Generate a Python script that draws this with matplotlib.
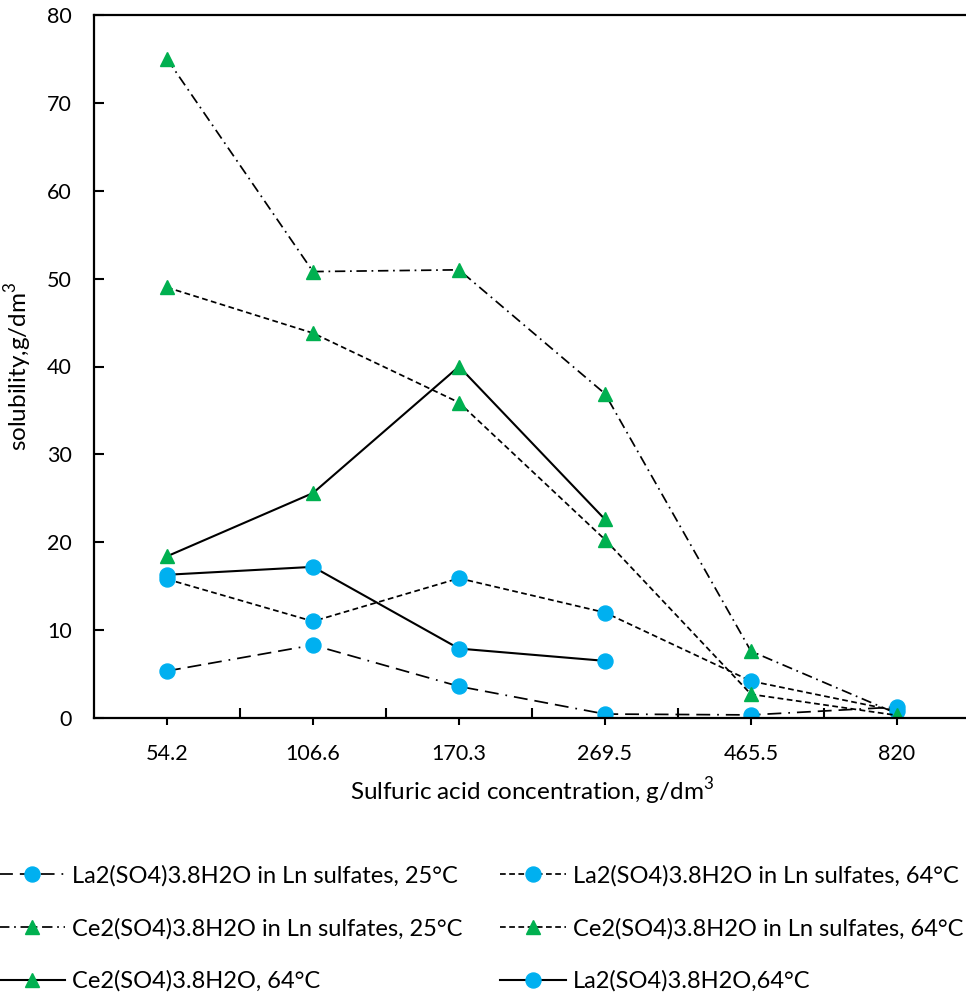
import matplotlib
matplotlib.use('Agg')
import matplotlib.pyplot as plt
import numpy as np

plt.rcParams['font.family'] = ['Lato', 'DejaVu Sans']
plt.rcParams['mathtext.fontset'] = 'custom'
plt.rcParams['mathtext.rm'] = 'Lato'

# sulfuric acid concentration, g/dm3 (categorical axis)
conc = ['54.2', '106.6', '170.3', '269.5', '465.5', '820']

# solubility, g/dm3
la_ln_25 = [5.35, 8.3, 3.6, 0.45, 0.35, 1.25]
la_ln_64 = [15.8, 11.0, 15.9, 12.0, 4.2, 0.8]
ce_ln_25 = [75.0, 50.8, 51.0, 36.9, 7.6, 0.5]
ce_ln_64 = [49.0, 43.8, 35.9, 20.3, 2.7, 0.3]
ce_64 = [18.4, 25.6, 40.0, 22.6]
la_64 = [16.3, 17.2, 7.9, 6.5]

labels = ['La2(SO4)3.8H2O in Ln sulfates, 25°C',
          'Ce2(SO4)3.8H2O in Ln sulfates, 25°C',
          'Ce2(SO4)3.8H2O, 64°C',
          'La2(SO4)3.8H2O in Ln sulfates, 64°C',
          'Ce2(SO4)3.8H2O in Ln sulfates, 64°C',
          'La2(SO4)3.8H2O,64°C']

blue = '#00B0F0'
green = '#00B050'

fig = plt.figure(figsize=(9.66, 9.92), dpi=100)
W, H = 966, 992
left, right, top, bottom = 94, 970, 15, 718
ax = fig.add_axes([left / W, 1 - bottom / H, (right - left) / W, (bottom - top) / H])

x6 = np.arange(len(conc))
x4 = np.arange(len(ce_64))

lw = 1.25
circ = dict(marker='o', markersize=10.8, markerfacecolor=blue, markeredgecolor=blue)
tri = dict(marker='^', markersize=10, markerfacecolor=green, markeredgecolor=green)

h1, = ax.plot(x6, la_ln_25, color='black', lw=lw, linestyle=(0, (8, 4, 8, 4, 8, 4, 1, 4)), **circ)
h2, = ax.plot(x6, ce_ln_25, color='black', lw=lw, linestyle=(0, (6, 2.7, 1, 2.7)), **tri)
h4, = ax.plot(x6, la_ln_64, color='black', lw=lw, linestyle=(0, (3.3, 2)), **circ)
h5, = ax.plot(x6, ce_ln_64, color='black', lw=lw, linestyle=(0, (3.3, 2)), **tri)
h3, = ax.plot(x4, ce_64, color='black', lw=1.5, linestyle='-', **tri)
h6, = ax.plot(x4, la_64, color='black', lw=1.5, linestyle='-', **circ)

ax.set_xlim(-0.5, len(conc) - 0.5)
ax.set_ylim(0, 80)
ax.set_yticks(np.arange(0, 81, 10))

ax.set_xticks(x6)
ax.set_xticklabels(conc)
ax.set_xticks(np.arange(0.5, len(conc) - 0.5, 1), minor=True)
ax.tick_params(axis='x', which='major', direction='out', length=5, width=1.5, labelsize=15.5, pad=14)
ax.tick_params(axis='x', which='minor', direction='in', length=7, width=1.5)
ax.tick_params(axis='y', direction='in', length=7, width=1.5, labelsize=15.5, pad=16)

for s in ax.spines.values():
    s.set_linewidth(1.6)

ax.set_xlabel(r'Sulfuric acid concentration, g/dm$^{\mathregular{3}}$', fontsize=17.5, labelpad=8)
ax.set_ylabel(r'solubility,g/dm$^{\mathregular{3}}$', fontsize=17.5, labelpad=9)

fig.legend([h1, h2, h3, h4, h5, h6], labels, ncol=2, loc='center',
           bbox_to_anchor=(0.498, 0.064), frameon=False, fontsize=17,
           handlelength=2.8, handletextpad=0.3, columnspacing=1.6,
           labelspacing=1.32, borderpad=0, numpoints=1)

fig.savefig('out.png', dpi=100)
